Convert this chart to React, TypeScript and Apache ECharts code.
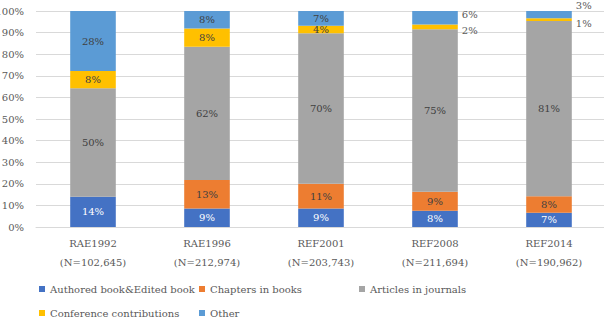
import React, { useEffect, useRef } from "react";
import * as echarts from "echarts";

const categories = ["RAE1992\n(N=102,645)", "RAE1996\n(N=212,974)", "REF2001\n(N=203,743)", "REF2008\n(N=211,694)", "REF2014\n(N=190,962)"];
const seriesNames = ["Authored book&Edited book", "Chapters in books", "Articles in journals", "Conference contributions", "Other"];
const authored = [14, 8.6, 8.6, 7.5, 6.6];
const chapters = [0, 13.2, 11.4, 8.8, 7.6];
const articles = [50.2, 61.7, 69.7, 75.2, 81.2];
const conference = [8, 8.4, 3.5, 2.3, 1.3];
const other = [27.8, 8.1, 6.8, 6.2, 3.3];
const yTicks = ["0%", "10%", "20%", "30%", "40%", "50%", "60%", "70%", "80%", "90%", "100%"];

const colors = ["#4472C4", "#ED7D31", "#A5A5A5", "#FFC000", "#5B9BD5"];
const labelColors = ["#FFFFFF", "#404040", "#404040", "#404040", "#404040"];
const FONT = "DejaVu Serif";
const FS = 10;

// outside label placements (series index, data index) -> offset
const outside: Record<string, number[]> = {
  "3-3": [0, 4],
  "4-3": [0, -3],
  "3-4": [0, 4],
  "4-4": [0, -9],
};

export default function App() {
  const ref = useRef<HTMLDivElement>(null);
  useEffect(() => {
    if (!ref.current) return;
    const chart = echarts.init(ref.current, undefined, { renderer: "svg" });
    const all = [authored, chapters, articles, conference, other];
    const series = all.map((arr, si) => ({
      name: seriesNames[si],
      type: "bar",
      stack: "total",
      barWidth: "40%",
      itemStyle: { color: colors[si] },
      label: {
        show: true,
        position: "inside",
        fontFamily: FONT,
        fontSize: FS,
        color: labelColors[si],
        formatter: (p: any) => (p.value > 0 ? Math.round(p.value) + "%" : ""),
      },
      data: arr.map((v, di) => {
        const off = outside[si + "-" + di];
        if (off) {
          return {
            value: v,
            label: { position: "right", offset: off, distance: 4, color: "#595959" },
          };
        }
        return v;
      }),
    }));
    const legendPos = [
      [34, 279],
      [194, 279],
      [354, 279],
      [34, 303],
      [194, 303],
    ];
    chart.setOption({
      animation: false,
      textStyle: { fontFamily: FONT },
      grid: { left: 36, top: 11, width: 570, height: 216, outerBoundsMode: "none", containLabel: false },
      xAxis: {
        type: "category",
        data: categories,
        axisTick: { show: false },
        axisLine: { lineStyle: { color: "#D9D9D9" } },
        axisLabel: { fontFamily: FONT, fontSize: FS, color: "#595959", lineHeight: 19, margin: 7 },
      },
      yAxis: {
        type: "value",
        min: 0,
        max: 100,
        interval: 10,
        axisLabel: {
          fontFamily: FONT,
          fontSize: FS,
          color: "#595959",
          margin: 12,
          formatter: (v: number) => yTicks[Math.round(v / 10)],
        },
        splitLine: { lineStyle: { color: "#D9D9D9" } },
      },
      legend: seriesNames.map((n, i) => ({
        data: [n],
        left: legendPos[i][0],
        top: legendPos[i][1],
        itemWidth: 6,
        itemHeight: 6,
        icon: "rect",
        textStyle: { fontFamily: FONT, fontSize: FS, color: "#595959" },
      })),
      series,
    });
    return () => chart.dispose();
  }, []);
  return <div ref={ref} style={{ position: "fixed", left: 0, top: 0, width: 604, height: 329, background: "#fff" }} />;
}
